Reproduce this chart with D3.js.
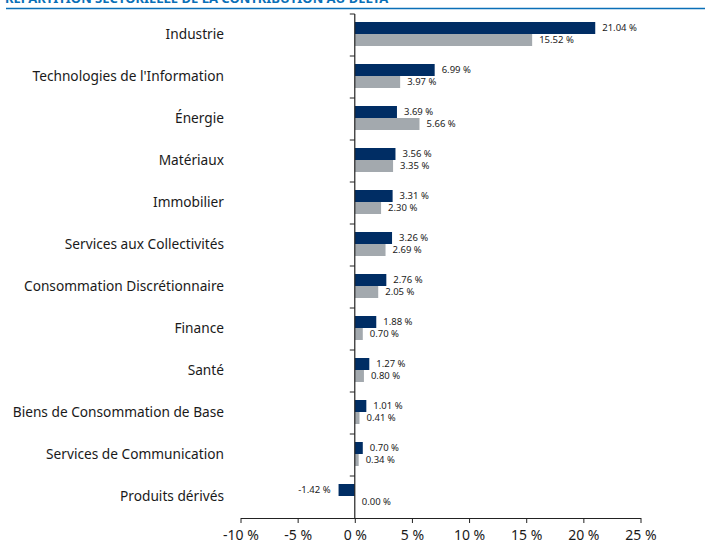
<!DOCTYPE html>
<html><head><meta charset="utf-8">
<script src="https://cdn.jsdelivr.net/npm/d3@7"></script>
<style>body{margin:0;background:#fff}svg{display:block}</style>
</head><body>
<script>
const categories = ["Industrie","Technologies de l'Information","Énergie","Matériaux","Immobilier","Services aux Collectivités","Consommation Discrétionnaire","Finance","Santé","Biens de Consommation de Base","Services de Communication","Produits dérivés"];
const seriesFund = [21.04,6.99,3.69,3.56,3.31,3.26,2.76,1.88,1.27,1.01,0.70,-1.42];
const seriesIndex = [15.52,3.97,5.66,3.35,2.30,2.69,2.05,0.70,0.80,0.41,0.34,0.00];
const xTicks = [-10,-5,0,5,10,15,20,25];
const title = "RÉPARTITION SECTORIELLE DE LA CONTRIBUTION AU DELTA";

const W=705,H=546;
const svg=d3.select("body").append("svg").attr("width",W).attr("height",H);
const font="'Noto Sans', 'Open Sans', sans-serif";

svg.append("text").attr("x",5).attr("y",3).attr("font-family",font).attr("font-weight","bold")
  .attr("font-size",13).attr("fill","#0a6fb7").text(title);
svg.append("line").attr("x1",6).attr("x2",705).attr("y1",8.5).attr("y2",8.5).attr("stroke","#0a6fb7").attr("stroke-width",1.5);

const x=d3.scaleLinear().domain([-10,25]).range([240.5,640.5]);
const y=d3.scaleBand().domain(categories).range([13,517]);
const bh=12;
const g=svg.append("g");

categories.forEach((c,i)=>{
  const yc=y(c)+y.bandwidth()/2;
  const v1=seriesFund[i], v2=seriesIndex[i];
  g.append("rect").attr("x",x(Math.min(0,v1))).attr("y",yc-bh).attr("width",Math.abs(x(v1)-x(0))).attr("height",bh).attr("fill","#002d64");
  g.append("rect").attr("x",x(Math.min(0,v2))).attr("y",yc).attr("width",Math.abs(x(v2)-x(0))).attr("height",bh).attr("fill","#a3a9ae");
  const fmt=v=>v.toFixed(2)+" %";
  g.append("text").attr("x",v1<0?x(v1)-8:x(v1)+7).attr("y",yc-bh/2).attr("dy","0.35em")
    .attr("text-anchor",v1<0?"end":"start").attr("font-family",font).attr("font-size",9.5).attr("fill","#222").text(fmt(v1));
  g.append("text").attr("x",v2<0?x(v2)-8:x(v2)+7).attr("y",yc+bh/2).attr("dy","0.35em")
    .attr("text-anchor",v2<0?"end":"start").attr("font-family",font).attr("font-size",9.5).attr("fill","#222").text(fmt(v2));
  g.append("text").attr("x",224).attr("y",yc).attr("dy","0.33em").attr("text-anchor","end")
    .attr("font-family",font).attr("font-size",13.7).attr("fill","#1a1a1a").text(c);
});

// y axis line and ticks at band boundaries
g.append("line").attr("x1",x(0)).attr("x2",x(0)).attr("y1",14).attr("y2",518).attr("stroke","#222").attr("stroke-width",1.2);
categories.forEach(c=>{
  g.append("line").attr("x1",x(0)-5).attr("x2",x(0)).attr("y1",y(c)+1).attr("y2",y(c)+1).attr("stroke","#222");
});

const xAxis=d3.axisBottom(x).tickValues(xTicks).tickSize(5).tickSizeOuter(0).tickFormat(d=>d+" %");
const ax=svg.append("g").attr("transform","translate(0,518)").call(xAxis);
ax.select(".domain").attr("stroke","#222").attr("stroke-width",1.2);
ax.selectAll(".tick line").attr("stroke","#222");
ax.selectAll(".tick text").attr("font-family",font).attr("font-size",14).attr("fill","#1a1a1a").attr("dy","1.0em");
</script>
</body></html>
